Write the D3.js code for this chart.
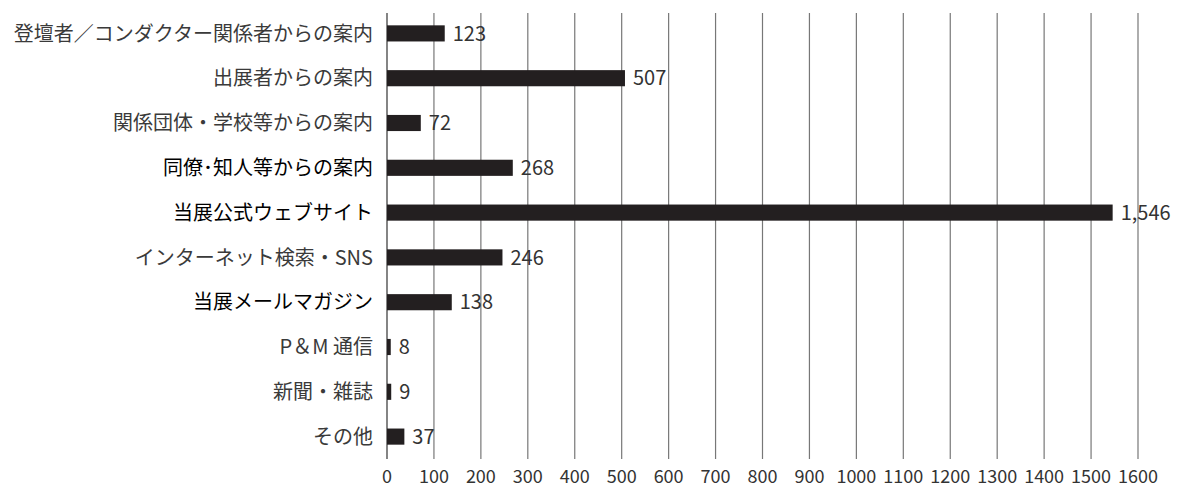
<!DOCTYPE html>
<html>
<head>
<meta charset="utf-8">
<script src="https://cdn.jsdelivr.net/npm/d3@7"></script>
<style>
  body { margin: 0; background: #fff; }
  text { font-family: "Noto Sans CJK JP", "Noto Sans", sans-serif; }
</style>
</head>
<body>
<div id="chart"></div>
<script>
// categories, top to bottom
let categories = [
    "登壇者／コンダクター関係者からの案内",
    "出展者からの案内",
    "関係団体・学校等からの案内",
    "同僚･知人等からの案内",
    "当展公式ウェブサイト",
    "インターネット検索・SNS",
    "当展メールマガジン",
    "P＆M 通信",
    "新聞・雑誌",
    "その他"
];
let counts = [123, 507, 72, 268, 1546, 246, 138, 8, 9, 37];
// labels that print a little darker in the original
let darkLabels = ["同僚･知人等からの案内", "当展公式ウェブサイト", "当展メールマガジン"];
let xTicks = [0, 100, 200, 300, 400, 500, 600, 700, 800, 900, 1000, 1100, 1200, 1300, 1400, 1500, 1600];

let data = categories.map((c, i) => ({name: c, value: counts[i]}));

let width = 1185, height = 490;
let margin = {left: 387, right: 47, top: 11, bottom: 31};

let svg = d3.select("#chart").append("svg")
    .attr("width", width)
    .attr("height", height);

let x = d3.scaleLinear()
    .domain([0, 1600])
    .range([margin.left, width - margin.right]);

let y = d3.scaleBand()
    .domain(categories)
    .range([margin.top, height - margin.bottom])
    .paddingInner(0.64)
    .paddingOuter(0.32);

// vertical grid lines
svg.append("g")
    .selectAll("line")
    .data(xTicks)
    .join("line")
    .attr("x1", d => x(d))
    .attr("x2", d => x(d))
    .attr("y1", 13)
    .attr("y2", height - margin.bottom)
    .attr("stroke", d => d === 0 ? "#333" : "#777")
    .attr("stroke-width", 1.2);

// tick labels
svg.append("g")
    .selectAll("text")
    .data(xTicks)
    .join("text")
    .attr("x", d => x(d))
    .attr("y", 483)
    .attr("text-anchor", "middle")
    .attr("font-size", "18px")
    .attr("fill", "#333")
    .text(d => d);

// bars
svg.append("g")
    .selectAll("rect")
    .data(data)
    .join("rect")
    .attr("x", x(0))
    .attr("y", d => y(d.name))
    .attr("width", d => x(d.value) - x(0))
    .attr("height", y.bandwidth())
    .attr("fill", "#231f20");

// value labels
svg.append("g")
    .selectAll("text")
    .data(data)
    .join("text")
    .attr("x", d => x(d.value) + 8)
    .attr("y", d => y(d.name) + y.bandwidth() / 2)
    .attr("dy", "0.36em")
    .attr("font-size", "20px")
    .attr("fill", "#333")
    .text(d => d3.format(",")(d.value));

// category labels
svg.append("g")
    .selectAll("text")
    .data(data)
    .join("text")
    .attr("x", x(0) - 14)
    .attr("y", d => y(d.name) + y.bandwidth() / 2)
    .attr("dy", "0.36em")
    .attr("text-anchor", "end")
    .attr("font-size", "20px")
    .attr("fill", d => darkLabels.includes(d.name) ? "#000" : "#3a3a3a")
    .text(d => d.name);
</script>
</body>
</html>
